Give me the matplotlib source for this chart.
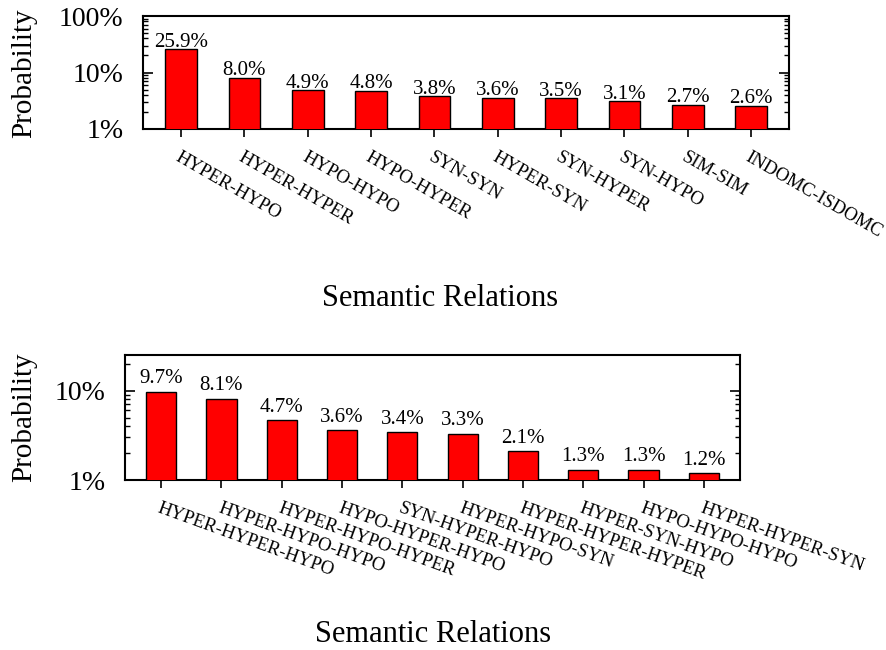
import numpy as np
import matplotlib.pyplot as plt
from matplotlib.ticker import FixedLocator, LogLocator, NullFormatter

# ==============================================================================
# DATA
# ==============================================================================
pairs = ["HYPER-HYPO", "HYPER-HYPER", "HYPO-HYPO", "HYPO-HYPER", "SYN-SYN",
         "HYPER-SYN", "SYN-HYPER", "SYN-HYPO", "SIM-SIM", "INDOMC-ISDOMC"]
pair_prob = [25.9, 8.0, 4.9, 4.8, 3.8, 3.6, 3.5, 3.1, 2.7, 2.6]

triples = ["HYPER-HYPER-HYPO", "HYPER-HYPO-HYPO", "HYPER-HYPO-HYPER",
           "HYPO-HYPER-HYPO", "SYN-HYPER-HYPO", "HYPER-HYPO-SYN",
           "HYPER-HYPER-HYPER", "HYPER-SYN-HYPO", "HYPO-HYPO-HYPO",
           "HYPER-HYPER-SYN"]
triple_prob = [9.7, 8.1, 4.7, 3.6, 3.4, 3.3, 2.1, 1.3, 1.3, 1.2]

# ==============================================================================
# STYLE
# ==============================================================================
plt.rcParams['font.family'] = ['Liberation Serif', 'DejaVu Serif']

W, H = 887, 650
fig = plt.figure(figsize=(W / 100, H / 100), dpi=100)


def px_axes(l, t, r, b):
    return fig.add_axes([l / W, 1 - b / H, (r - l) / W, (b - t) / H])


def draw(ax, names, vals, ylim, yticks, rot, label_off):
    x = np.arange(len(names))
    ax.bar(x, vals, width=0.5, color="#ff0000", edgecolor="black",
           linewidth=1.0, zorder=3)
    for xi, v in zip(x, vals):
        ax.annotate(f"{v:.1f}%", (xi, v), xytext=(0, label_off),
                    textcoords="offset points", ha="center", va="baseline",
                    fontsize=15)
    ax.set_yscale("log")
    ax.set_ylim(*ylim)
    ax.set_xlim(-0.6, len(names) - 0.4)
    ax.yaxis.set_major_locator(FixedLocator(yticks))
    ax.set_yticklabels([f"{t:g}%" for t in yticks], fontsize=20)
    ax.yaxis.set_minor_locator(LogLocator(base=10, subs=np.arange(2, 10)))
    ax.yaxis.set_minor_formatter(NullFormatter())
    ax.tick_params(axis="y", which="major", direction="in", length=7,
                   width=1.2, left=True, right=True, pad=14)
    ax.tick_params(axis="y", which="minor", direction="in", length=3.5,
                   width=1.0, left=True, right=True)
    ax.set_xticks(x)
    ax.set_xticklabels(names, rotation=rot, ha="left", va="top",
                       rotation_mode="anchor", fontsize=13.5)
    ax.tick_params(axis="x", direction="out", length=6, width=1.2,
                   top=False, pad=8)
    for s in ax.spines.values():
        s.set_linewidth(1.5)


ax1 = px_axes(143, 16, 789, 129)
draw(ax1, pairs, pair_prob, (1, 100), [1, 10, 100], -30, 1.8)

ax2 = px_axes(125, 355, 740, 480)
draw(ax2, triples, triple_prob, (1, 25), [1, 10], -20, 6)

fig.text(24 / W, 1 - 73 / H, "Probability", rotation=90, ha="center",
         va="center", fontsize=21)
fig.text(24 / W, 1 - 417 / H, "Probability", rotation=90, ha="center",
         va="center", fontsize=21)
fig.text(440 / W, 1 - 298 / H, "Semantic Relations", ha="center",
         va="center", fontsize=22)
fig.text(433 / W, 1 - 634 / H, "Semantic Relations", ha="center",
         va="center", fontsize=22)

fig.savefig("out.png", dpi=100)
